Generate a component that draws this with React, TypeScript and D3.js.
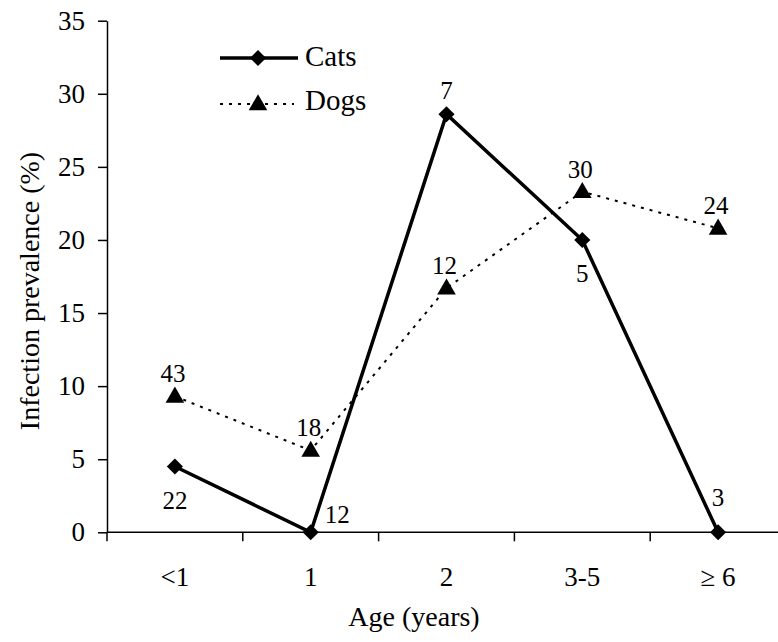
import React, { useRef, useEffect } from 'react';
import * as d3 from 'd3';

const ageGroups = ['<1', '1', '2', '3-5', '≥ 6'];
const catPrevalence = [4.5, 0, 28.6, 20, 0];
const dogPrevalence = [9.3, 5.6, 16.7, 23.3, 20.8];
const catCounts = [22, 12, 7, 5, 3];
const dogCounts = [43, 18, 12, 30, 24];
const catLabelSide = ['below', 'right', 'above', 'below', 'above'];
const yTicks = [0, 5, 10, 15, 20, 25, 30, 35];

const W = 778;
const H = 642;
const FONT = '"Liberation Serif", "Times New Roman", serif';

const App = () => {
  const svgRef = useRef<SVGSVGElement>(null);

  useEffect(() => {
    const svg = d3.select(svgRef.current);
    svg.selectAll('*').remove();

    const left = 107, right = 786, top = 20.7, bottom = 532.3;

    const x = d3.scaleBand<string>().domain(ageGroups).range([left, right]);
    const y = d3.scaleLinear().domain([0, 35]).range([bottom, top]);
    const cx = (d: string) => (x(d) as number) + x.bandwidth() / 2;

    // y axis
    const yAxis = svg.append('g')
      .attr('transform', `translate(${left},0)`)
      .call(d3.axisLeft(y).tickValues(yTicks).tickSize(9).tickPadding(13).tickSizeOuter(0));
    yAxis.select('.domain').attr('stroke', '#000').attr('stroke-width', 1.5);
    yAxis.selectAll('.tick line').attr('stroke', '#000').attr('stroke-width', 1.5);
    yAxis.selectAll('.tick text').attr('font-family', FONT).attr('font-size', 27).attr('fill', '#000');

    // x axis: line + boundary ticks, labels at band centres
    svg.append('line')
      .attr('x1', left).attr('x2', right)
      .attr('y1', y(0)).attr('y2', y(0))
      .attr('stroke', '#000').attr('stroke-width', 1.5);
    const bounds = ageGroups.map(d => x(d) as number);
    svg.append('g').selectAll('line')
      .data(bounds)
      .enter()
      .append('line')
      .attr('x1', d => d).attr('x2', d => d)
      .attr('y1', y(0)).attr('y2', y(0) + 9)
      .attr('stroke', '#000').attr('stroke-width', 1.5);
    svg.append('g').selectAll('text')
      .data(ageGroups)
      .enter()
      .append('text')
      .attr('x', d => cx(d))
      .attr('y', y(0) + 54)
      .attr('text-anchor', 'middle')
      .attr('font-family', FONT)
      .attr('font-size', 27)
      .text(d => d);

    // axis titles
    svg.append('text')
      .attr('x', 414).attr('y', 626)
      .attr('text-anchor', 'middle')
      .attr('font-family', FONT).attr('font-size', 28)
      .text('Age (years)');
    svg.append('text')
      .attr('transform', `translate(39,291) rotate(-90)`)
      .attr('text-anchor', 'middle')
      .attr('font-family', FONT).attr('font-size', 28)
      .text('Infection prevalence (%)');

    const line = d3.line<number>()
      .x((_, i) => cx(ageGroups[i]))
      .y(d => y(d));

    const triangle = d3.symbol().type(d3.symbolTriangle).size(150);
    const diamond = d3.symbol().type(d3.symbolSquare).size(130);

    // Dogs
    svg.append('path')
      .datum(dogPrevalence)
      .attr('fill', 'none')
      .attr('stroke', '#000')
      .attr('stroke-width', 2)
      .attr('stroke-dasharray', '3,6')
      .attr('d', line);
    svg.append('g').selectAll('path')
      .data(dogPrevalence)
      .enter()
      .append('path')
      .attr('d', triangle)
      .attr('transform', (d, i) => `translate(${cx(ageGroups[i])},${y(d) + 1})`)
      .attr('fill', '#000');
    svg.append('g').selectAll('text')
      .data(dogPrevalence)
      .enter()
      .append('text')
      .attr('x', (_, i) => cx(ageGroups[i]) - 2)
      .attr('y', d => y(d) - 14)
      .attr('text-anchor', 'middle')
      .attr('font-family', FONT).attr('font-size', 25)
      .text((_, i) => dogCounts[i]);

    // Cats
    svg.append('path')
      .datum(catPrevalence)
      .attr('fill', 'none')
      .attr('stroke', '#000')
      .attr('stroke-width', 3.5)
      .attr('d', line);
    svg.append('g').selectAll('path')
      .data(catPrevalence)
      .enter()
      .append('path')
      .attr('d', diamond)
      .attr('transform', (d, i) => `translate(${cx(ageGroups[i])},${y(d)}) rotate(45)`)
      .attr('fill', '#000');
    svg.append('g').selectAll('text')
      .data(catPrevalence)
      .enter()
      .append('text')
      .attr('x', (_, i) => cx(ageGroups[i]) + (catLabelSide[i] === 'right' ? 14 : 0))
      .attr('y', (d, i) => {
        const side = catLabelSide[i];
        if (side === 'below') return y(d) + 42;
        if (side === 'right') return y(d) - 9;
        return y(d) - 26 + (i === 4 ? 0 : 11);
      })
      .attr('text-anchor', (_, i) => (catLabelSide[i] === 'right' ? 'start' : 'middle'))
      .attr('font-family', FONT).attr('font-size', 25)
      .text((_, i) => catCounts[i]);

    // legend
    const legend = svg.append('g');
    legend.append('line')
      .attr('x1', 220).attr('x2', 298).attr('y1', 58).attr('y2', 58)
      .attr('stroke', '#000').attr('stroke-width', 3.5);
    legend.append('path')
      .attr('d', diamond)
      .attr('transform', 'translate(258,58) rotate(45)')
      .attr('fill', '#000');
    legend.append('text')
      .attr('x', 305).attr('y', 66)
      .attr('font-family', FONT).attr('font-size', 29)
      .text('Cats');
    legend.append('line')
      .attr('x1', 220).attr('x2', 294).attr('y1', 104).attr('y2', 104)
      .attr('stroke', '#000').attr('stroke-width', 2)
      .attr('stroke-dasharray', '3,6');
    legend.append('path')
      .attr('d', triangle)
      .attr('transform', 'translate(258,105)')
      .attr('fill', '#000');
    legend.append('text')
      .attr('x', 305).attr('y', 110)
      .attr('font-family', FONT).attr('font-size', 29)
      .text('Dogs');
  }, []);

  return (
    <svg
      ref={svgRef}
      width={W}
      height={H}
      style={{ position: 'absolute', left: 0, top: 0, background: '#fff' }}
    />
  );
};

export default App;
